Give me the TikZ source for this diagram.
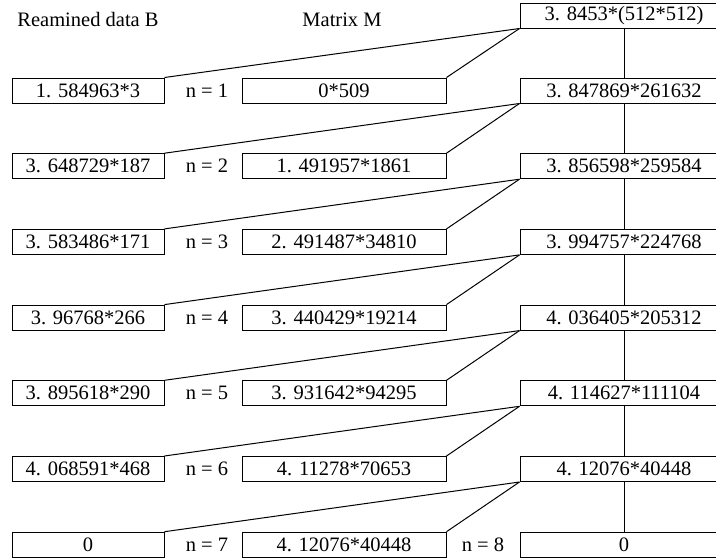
\documentclass[tikz,border=0pt]{standalone}
\usepackage{fontspec}
\setmainfont{Liberation Serif}
\begin{document}
\begin{tikzpicture}[x=1pt,y=-1pt,
  every node/.style={font=\fontsize{20.5}{24}\selectfont},
  box/.style={draw, line width=1pt, minimum height=25pt, inner sep=0pt},
  lbox/.style={box, minimum width=152pt},
  mbox/.style={box, minimum width=204pt},
  rbox/.style={box, minimum width=208pt},
  lab/.style={inner sep=0pt, anchor=base},
  link/.style={line width=1pt}]
\clip (0,0) rectangle (716,560);
% headers
\node[lab] (hb) at (88,26.5) {Reamined data B};
\node[lab] (hm) at (342,26.5) {Matrix M};
% right column
\node[rbox] (r0) at (624,15.5) {3. 8453*(512*512)};
\node[rbox] (r1) at (624,90.5) {3. 847869*261632};
\node[rbox] (r2) at (624,166.2) {3. 856598*259584};
\node[rbox] (r3) at (624,241.9) {3. 994757*224768};
\node[rbox] (r4) at (624,317.6) {4. 036405*205312};
\node[rbox] (r5) at (624,393.3) {4. 114627*111104};
\node[rbox] (r6) at (624,469.0) {4. 12076*40448};
\node[rbox] (r7) at (624,544.7) {0};
% left column
\node[lbox] (l1) at (88,90.5) {1. 584963*3};
\node[lbox] (l2) at (88,166.2) {3. 648729*187};
\node[lbox] (l3) at (88,241.9) {3. 583486*171};
\node[lbox] (l4) at (88,317.6) {3. 96768*266};
\node[lbox] (l5) at (88,393.3) {3. 895618*290};
\node[lbox] (l6) at (88,469.0) {4. 068591*468};
\node[lbox] (l7) at (88,544.7) {0};
% middle column
\node[mbox] (m1) at (344,90.5) {0*509};
\node[mbox] (m2) at (344,166.2) {1. 491957*1861};
\node[mbox] (m3) at (344,241.9) {2. 491487*34810};
\node[mbox] (m4) at (344,317.6) {3. 440429*19214};
\node[mbox] (m5) at (344,393.3) {3. 931642*94295};
\node[mbox] (m6) at (344,469.0) {4. 11278*70653};
\node[mbox] (m7) at (344,544.7) {4. 12076*40448};
% n labels
\node (n1) at (207,90.5) {n = 1};
\node (n2) at (207,166.2) {n = 2};
\node (n3) at (207,241.9) {n = 3};
\node (n4) at (207,317.6) {n = 4};
\node (n5) at (207,393.3) {n = 5};
\node (n6) at (207,469.0) {n = 6};
\node (n7) at (207,544.7) {n = 7};
\node (n8) at (483,544.7) {n = 8};
% connectors
\foreach \a/\b in {0/1,1/2,2/3,3/4,4/5,5/6,6/7}{
  \draw[link] (r\a.south west) -- (l\b.north east);
  \draw[link] (r\a.south west) -- (m\b.north east);
  \draw[link] (r\a.south) -- (r\b.north);
}
\end{tikzpicture}
\end{document}
